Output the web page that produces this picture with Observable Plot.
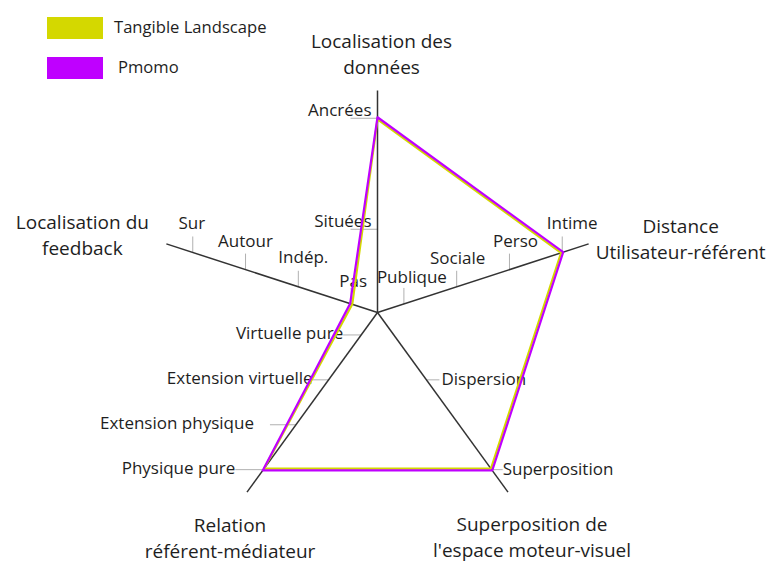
<!DOCTYPE html>
<html><head><meta charset="utf-8">
<script src="https://cdn.jsdelivr.net/npm/d3@7"></script>
<script src="https://cdn.jsdelivr.net/npm/@observablehq/plot@0.6"></script>
<style>
body{margin:0;background:#fff;font-family:"Open Sans",sans-serif;}
#wrap{position:relative;width:774px;height:563px;overflow:hidden;}
#legend{position:absolute;left:0;top:0;}
.sw{position:absolute;}
.lt{position:absolute;font-size:16.6px;color:#1e1e1e;line-height:22px;white-space:nowrap;}
</style></head><body><div id="wrap"><div id="chart"></div><div id="legend"></div></div>
<script>
// ---- data ----
const axisTitles = [
  "Localisation des\ndonnées",
  "Distance\nUtilisateur-référent",
  "Superposition de\nl'espace moteur-visuel",
  "Relation\nréférent-médiateur",
  "Localisation du\nfeedback"
];
const ticksDonnees = ["", "Situées", "", "Ancrées"];
const ticksDistance = ["Publique", "Sociale", "Perso", "Intime"];
const ticksSuperposition = ["", "Dispersion", "", "Superposition"];
const ticksRelation = ["Virtuelle pure", "Extension virtuelle", "Extension physique", "Physique pure"];
const ticksFeedback = ["Pas", "Indép.", "Autour", "Sur"];
const tickLabels = [ticksDonnees, ticksDistance, ticksSuperposition, ticksRelation, ticksFeedback];
const seriesNames = ["Tangible Landscape", "Pmomo"];
const tangibleValues = [3, 3, 3, 3, 0];   // slot index on each axis
const pmomoValues = [3, 3, 3, 3, 0];
const seriesValues = [tangibleValues, pmomoValues];

// ---- styles / layout ----
const seriesColors = ["#d4d800", "#bf00ff"];
const seriesOffset = [-1.2, 1.0];          // px radial offset so both outlines show
const W = 774, H = 563, CX = 377, CY = 312, L = 222, SLOTS = 4;
// per axis: tick vectors per slot (screen px), label offsets per slot, anchor, title offset from axis end
const layout = [
  {tick: [[-27,0],[-27,0],[-27,0],[-27,0]], lab: [[-6,-8],[-6,-8],[-6,-8],[-6,-8]], anchor: "end", title: [4, -38]},
  {tick: [[0,-16],[0,-16],[0,-16],[0,-16]], lab: [[8,-26],[1,-28],[6,-28],[10,-29]], anchor: "middle", title: [92, -6]},
  {tick: [[13,0],[13,0],[15,0],[11,0]], lab: [[15,0],[15,0],[15,0],[11,0]], anchor: "start", title: [24, 44]},
  {tick: [[-18,0],[-16,0],[-26,0],[-28,0]], lab: [[-18,-1],[-16,-1],[-42,-1],[-28,-1]], anchor: "end", title: [-17, 45]},
  {tick: [[0,-16],[0,-16],[0,-16],[0,-16]], lab: [[2,-22],[5,-29],[0,-28],[-1,-29]], anchor: "middle", title: [-84, -10]}
];

const ang = k => k * 2 * Math.PI / axisTitles.length;
const pt = (k, r) => [r * Math.sin(ang(k)), r * Math.cos(ang(k))];
const slotR = s => (s + 0.5) / SLOTS * L;

const axisData = axisTitles.map((title, k) => { const [x, y] = pt(k, L); return {k, title, x, y}; });
const tickData = [];
tickLabels.forEach((labs, k) => labs.forEach((label, i) => {
  if (!label) return;
  const [x, y] = pt(k, slotR(i));
  tickData.push({k, i, label, x, y});
}));
const polyData = [];
seriesNames.forEach((series, s) => seriesValues[s].forEach((v, k) => {
  const [x, y] = pt(k, slotR(v) + seriesOffset[s]);
  polyData.push({series, k, x, y});
}));

const labelMarks = layout.map((lo, k) => Plot.text(tickData.filter(d => d.k === k), {
  x: d => d.x + lo.lab[d.i][0], y: d => d.y - lo.lab[d.i][1], text: "label",
  textAnchor: lo.anchor, fontSize: 17, fill: "#1e1e1e"
}));
const titleMarks = layout.map((lo, k) => Plot.text(axisData.filter(d => d.k === k), {
  x: d => d.x + lo.title[0], y: d => d.y - lo.title[1], text: "title",
  textAnchor: "middle", lineAnchor: "middle", lineHeight: 1.36, fontSize: 19, fill: "#1e1e1e"
}));

const chart = Plot.plot({
  width: W, height: H, margin: 0,
  style: {fontFamily: "Open Sans", background: "white"},
  x: {domain: [-CX, W - CX], axis: null},
  y: {domain: [-(H - CY), CY], axis: null},
  color: {domain: seriesNames, range: seriesColors},
  marks: [
    Plot.link(tickData, {
      x1: "x", y1: "y",
      x2: d => d.x + layout[d.k].tick[d.i][0], y2: d => d.y - layout[d.k].tick[d.i][1],
      stroke: "#b0b0b0", strokeWidth: 1
    }),
    ...labelMarks,
    ...titleMarks,
    Plot.link(axisData, {x1: () => 0, y1: () => 0, x2: "x", y2: "y", stroke: "#333", strokeWidth: 1.5}),
    Plot.line(polyData, {x: "x", y: "y", z: "series", stroke: "series", curve: "linear-closed", strokeWidth: 2.2})
  ]
});
document.getElementById("chart").appendChild(chart);

const legend = document.getElementById("legend");
seriesNames.forEach((name, i) => {
  const sw = document.createElement("div");
  sw.className = "sw";
  Object.assign(sw.style, {left: "47px", top: (17 + 40 * i) + "px", width: "56px", height: "22px", background: seriesColors[i]});
  legend.appendChild(sw);
  const t = document.createElement("div");
  t.className = "lt";
  t.textContent = name;
  Object.assign(t.style, {left: (114 + 4 * i) + "px", top: (16 + 40 * i) + "px"});
  legend.appendChild(t);
});
</script></body></html>
